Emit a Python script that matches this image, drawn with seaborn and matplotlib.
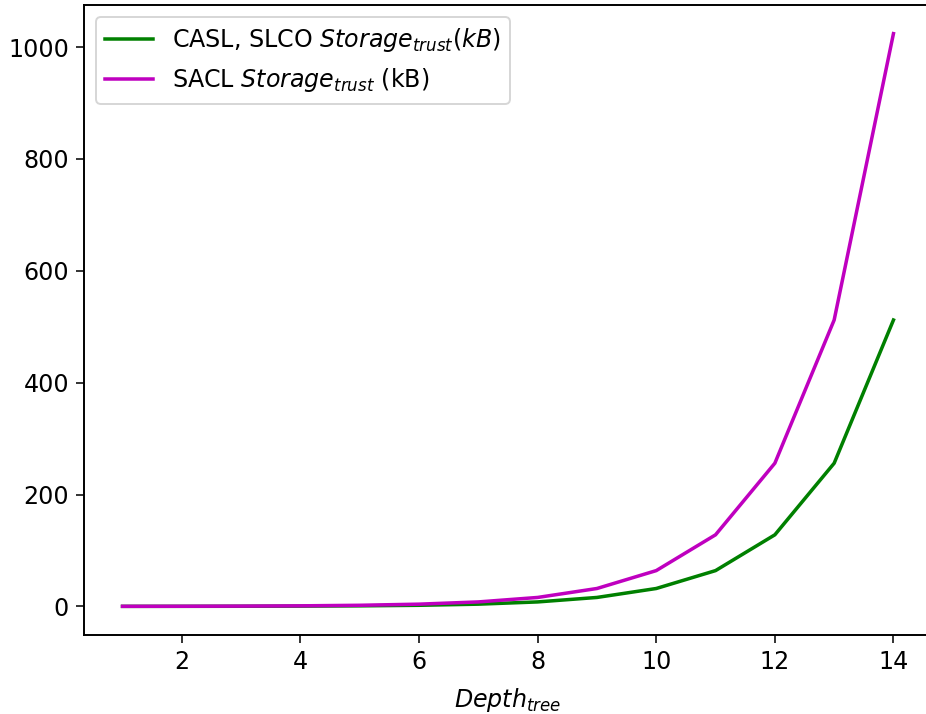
import matplotlib
matplotlib.use("Agg")
import matplotlib.pyplot as plt
import seaborn as sns
import pandas as pd

depth = [1, 2, 3, 4, 5, 6, 7, 8, 9, 10, 11, 12, 13, 14]
casl_slco = [0.0625, 0.125, 0.25, 0.5, 1, 2, 4, 8, 16, 32, 64, 128, 256, 512]
sacl = [0.125, 0.25, 0.5, 1, 2, 4, 8, 16, 32, 64, 128, 256, 512, 1024]
labels = [r"CASL, SLCO $Storage_{trust}(kB)$", r"SACL $Storage_{trust}$ (kB)"]

df = pd.DataFrame({
    "depth": depth * 2,
    "value": casl_slco + sacl,
    "series": [labels[0]] * len(depth) + [labels[1]] * len(depth),
})

plt.rcParams["font.size"] = 12.2
plt.rcParams["xtick.major.size"] = 4.2
plt.rcParams["ytick.major.size"] = 4.2
plt.rcParams["axes.linewidth"] = 1.0

dpi = 140
fig = plt.figure(figsize=(927 / dpi, 714 / dpi), dpi=dpi)
ax = fig.add_axes([84 / 927, 79 / 714, (932 - 84) / 927, (635 - 5) / 714])
sns.lineplot(data=df, x="depth", y="value", hue="series",
             palette={labels[0]: "g", labels[1]: "m"}, ax=ax, linewidth=1.8)
ax.set_xlabel(r"$Depth_{tree}$", labelpad=6)
ax.set_ylabel("")
ax.legend(loc="upper left")
fig.savefig("out.png", dpi=dpi)
